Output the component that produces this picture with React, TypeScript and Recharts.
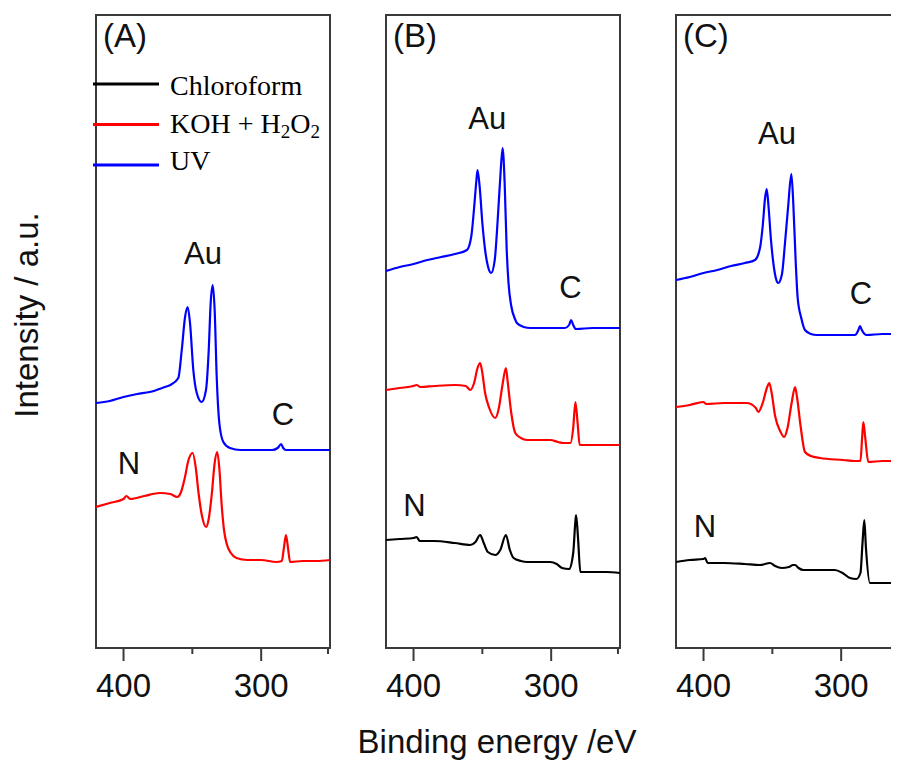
import React from 'react';
import { LineChart, Line, XAxis, YAxis, ReferenceArea, ReferenceDot } from 'recharts';

// [binding energy (eV), intensity (a.u.)]
const aKoh: [number, number][] = [
  [420, 141], [410, 145], [400, 149], [398, 152], [395, 149], [385, 152], [373.5, 155], [366, 154],
  [361, 151], [358.5, 155], [355.5, 170], [353, 187], [349.8, 195], [347.5, 180], [345.5, 155], [343, 132],
  [340, 121], [338, 130], [335.8, 155], [333.8, 185], [331.9, 196], [330.3, 178], [328.8, 145], [327, 118],
  [325, 104], [322, 95], [318, 90], [310, 88], [300, 88], [289, 86], [285, 87], [283.5, 100],
  [282, 113], [280.5, 100], [279, 86], [270, 87], [260, 87], [250, 88],
];
const aUv: [number, number][] = [
  [420, 245], [410, 247], [400, 251], [390, 254], [381, 256], [370, 261], [366, 263], [360.2, 270],
  [357.7, 298], [355.3, 331], [353.4, 341], [351.7, 325], [349.3, 278], [346.8, 255], [343.2, 246], [340.1, 258],
  [338.1, 298], [336.7, 345], [335.2, 363], [333.8, 338], [332.3, 271], [330.4, 225], [327.5, 206], [322.7, 200],
  [315, 198], [300, 198], [292, 198], [288, 200], [285.5, 204], [284, 200], [282, 198], [270, 198], [250, 198],
];

const bChl: [number, number][] = [
  [420, 108], [410, 109], [400, 110], [397.7, 111], [395.5, 107], [385, 107], [370, 105], [358.8, 103],
  [355, 106], [351.6, 113], [349, 105], [346, 96], [340.6, 93], [337, 98], [332.9, 113], [330, 98],
  [327.3, 90], [322, 87], [317.6, 86], [310, 86], [300.6, 86], [296, 84], [292.1, 80], [287, 79],
  [284, 95], [282.5, 125], [281.9, 133], [280.5, 110], [278.8, 76], [270, 76], [260, 76], [250, 75],
];
const bKoh: [number, number][] = [
  [420, 258], [410, 260], [400, 262], [397.7, 263], [395, 261], [385, 262], [370, 263], [362, 262],
  [358.8, 258], [356, 265], [353.5, 280], [351.6, 285], [350, 275], [348, 255], [345, 240], [340.6, 230],
  [338, 240], [335.5, 262], [332.9, 280], [331.5, 265], [329, 235], [326.1, 215], [322, 210], [317.6, 208],
  [310, 208], [300.6, 208], [295, 206], [290.9, 205], [286, 205], [284, 220], [282.4, 246], [280.8, 225],
  [279.3, 203], [270, 203], [250, 203],
];
const bUv: [number, number][] = [
  [420, 377], [410, 381], [400, 384], [390, 388], [380, 391], [370, 394], [361.2, 398], [358, 412],
  [356, 440], [354.5, 465], [353.5, 478], [352, 462], [350, 425], [348, 398], [346, 382], [343.6, 375],
  [341, 388], [339, 425], [337, 470], [335.3, 500], [333.8, 465], [332.3, 398], [331, 365], [329, 342],
  [326, 328], [324.9, 325], [320, 321], [315, 320], [300, 320], [290, 320], [287, 323], [285.5, 328],
  [284, 323], [282, 319], [270, 320], [250, 320],
];

const cChl: [number, number][] = [
  [420, 86], [410, 88], [400, 89], [398.9, 90], [397, 85], [385, 85], [370, 84], [359, 83],
  [351.7, 85], [348, 82], [343.2, 80], [338, 81], [335, 83], [333.5, 83], [331, 80], [327.5, 78],
  [320, 78], [310, 78], [304.5, 78], [299, 75], [293.6, 70], [289, 69], [286, 75], [284.5, 105],
  [283.2, 128], [282, 100], [279.1, 65], [270, 65], [258, 65], [250, 65],
];
const cKoh: [number, number][] = [
  [420, 241], [410, 243], [400.2, 246], [398, 244], [385, 245], [368.6, 245], [362, 240], [360.2, 236],
  [357, 245], [354, 260], [352.2, 265], [350.5, 255], [348, 232], [344, 216], [341.5, 211], [339, 220],
  [336, 245], [333.5, 261], [332, 250], [329.5, 222], [326.3, 196], [322, 192], [315.4, 190], [298.5, 188],
  [290, 187], [286, 187], [284.8, 210], [283.9, 226], [282.5, 210], [280.3, 186], [270, 187], [250, 187],
];
const cUv: [number, number][] = [
  [420, 368], [410, 371], [400, 375], [390, 378], [380, 382], [370, 385], [362.6, 388], [359, 400],
  [357, 422], [355.3, 450], [354.1, 459], [352.8, 442], [351, 408], [349, 382], [347.5, 370], [345.7, 365],
  [343, 374], [341, 402], [338.5, 442], [336.2, 474], [334.8, 445], [333, 385], [331.6, 350], [329, 330],
  [326.3, 318], [322, 314], [317.8, 313], [296, 313], [290, 313], [287.5, 318], [286.3, 322], [285, 318],
  [281.5, 313], [270, 314], [258, 314], [250, 314],
];

const seriesNames = ['Chloroform', 'KOH + H2O2', 'UV'];
const seriesColors = ['#000000', '#ff0000', '#0000ff'];
const energyTicks = [400, 350, 300, 250];
const labelledTicks = [400, 300];

// peak annotations [text, energy, intensity]
const aNotes: [string, number, number][] = [['Au', 342.3, 395], ['C', 284.1, 234], ['N', 396, 185]];
const bNotes: [string, number, number][] = [['Au', 346.5, 530], ['C', 286, 361], ['N', 399.3, 143]];
const cNotes: [string, number, number][] = [['Au', 346.6, 515], ['C', 285.6, 355], ['N', 398.9, 122]];

const toRows = (pts: [number, number][]) => pts.map(([e, v]) => ({ e, v }));

const panels = [
  { name: '(A)', left: 96, series: [null, aKoh, aUv], notes: aNotes },
  { name: '(B)', left: 386, series: [bChl, bKoh, bUv], notes: bNotes },
  { name: '(C)', left: 676, series: [cChl, cKoh, cUv], notes: cNotes },
];

const AXIS = '#3a3a3a';
const PLOT_W = 234;
const PLOT_H = 633;
const M = { top: 7, right: 10, left: 10, bottom: 0 };

const EnergyTick = (props: any) => {
  const { x, y, payload } = props;
  const major = labelledTicks.includes(payload.value);
  return (
    <g>
      <line x1={x} y1={y} x2={x} y2={y + (major ? 13 : 6)} stroke={AXIS} strokeWidth={2} />
      {major && (
        <text x={x} y={y + 49} textAnchor="middle" fontSize={33} fill="#111">
          {payload.value}
        </text>
      )}
    </g>
  );
};

const Panel = ({ p }: { p: (typeof panels)[number] }) => (
  <div style={{ position: 'absolute', left: p.left - 8 - M.left, top: 15 - 8 - M.top }}>
    <LineChart width={PLOT_W + M.left + M.right} height={PLOT_H + M.top + 60} margin={M}>
      <XAxis
        dataKey="e"
        type="number"
        domain={[250, 420]}
        reversed
        allowDataOverflow
        ticks={energyTicks}
        tick={<EnergyTick />}
        tickLine={false}
        axisLine={false}
        tickSize={0}
        tickMargin={0}
        height={60}
      />
      <YAxis type="number" domain={[0, 633]} hide width={0} allowDataOverflow />
      <ReferenceArea x1={420} x2={250} y1={0} y2={633} fill="none" stroke={AXIS} strokeWidth={2} />
      {p.series.map((s, i) =>
        s ? (
          <Line
            key={seriesNames[i]}
            data={toRows(s)}
            dataKey="v"
            type="monotone"
            stroke={seriesColors[i]}
            strokeWidth={2.2}
            dot={false}
            isAnimationActive={false}
          />
        ) : null
      )}
      {p.notes.map(([t, e, v]) => (
        <ReferenceDot
          key={t}
          x={e}
          y={v}
          r={1}
          fill="none"
          stroke="none"
          label={{ value: t, position: 'center', fontSize: 31, fill: '#111' }}
        />
      ))}
    </LineChart>
  </div>
);

export default function App() {
  return (
    <div
      style={{
        position: 'relative',
        width: 891,
        height: 754,
        overflow: 'hidden',
        background: '#fff',
        fontFamily: '"Liberation Sans", Arial, sans-serif',
      }}
    >
      {panels.map((p) => (
        <Panel key={p.name} p={p} />
      ))}
      <svg width={891} height={754} style={{ position: 'absolute', left: 0, top: 0, pointerEvents: 'none' }}>
        <g transform="translate(-8,-8)">
          {panels.map((p) => (
            <text key={p.name} x={p.left + 7} y={47} fontSize={33} fill="#111">
              {p.name}
            </text>
          ))}
          <text x={497} y={753} textAnchor="middle" fontSize={33} fill="#111">
            Binding energy /eV
          </text>
          <text x={38} y={315} transform="rotate(-90 38 315)" textAnchor="middle" fontSize={33} fill="#111">
            Intensity / a.u.
          </text>
          <g fontFamily='"Liberation Serif", "Times New Roman", serif' fontSize={28} fill="#000">
            <rect x={168} y={68} width={160} height={114} fill="#fff" />
            {seriesNames.map((n, i) => (
              <g key={n}>
                <line x1={93} x2={159} y1={84 + i * 40.5} y2={84 + i * 40.5} stroke={seriesColors[i]} strokeWidth={3} />
                <text x={170} y={95 + i * 37.5}>
                  {n === 'KOH + H2O2' ? (
                    <>
                      KOH + H<tspan fontSize={19} dy={5}>2</tspan>
                      <tspan dy={-5}>O</tspan>
                      <tspan fontSize={19} dy={5}>2</tspan>
                    </>
                  ) : (
                    n
                  )}
                </text>
              </g>
            ))}
          </g>
        </g>
      </svg>
    </div>
  );
}
